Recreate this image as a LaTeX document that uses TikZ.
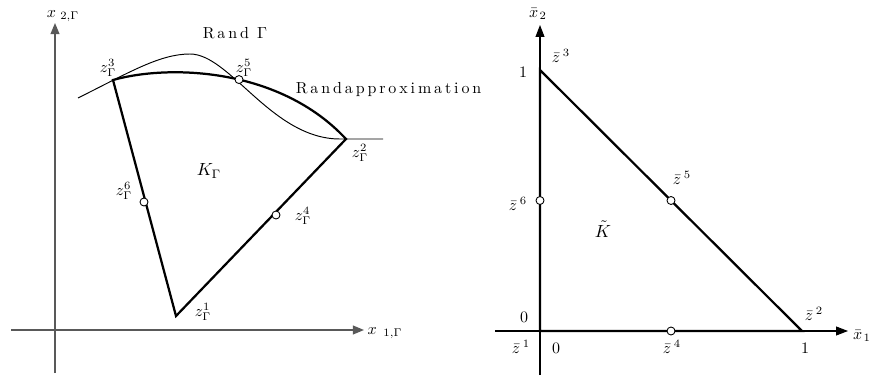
\RequirePackage{fix-cm}
\documentclass[tikz,border=0pt]{standalone}
\usetikzlibrary{arrows.meta,calc}
\makeatletter
\newcommand\lspaced[1]{\lsp@loop#1\relax}
\def\lsp@loop#1{\ifx#1\relax\else#1\kern1.8pt\expandafter\lsp@loop\fi}
\makeatother
\tikzset{
  axL/.style={draw=black!65, line width=0.8pt, -{Triangle[length=7pt,width=5.6pt]}},
  axR/.style={draw=black, line width=0.65pt, -{Triangle[length=7.5pt,width=5.6pt]}},
  edgeline/.style={line width=1.4pt},
  thincurve/.style={line width=0.6pt},
  midpt/.style={circle, draw, line width=0.55pt, fill=white, inner sep=0pt, minimum size=5pt},
  lbl/.style={inner sep=0pt, font=\normalsize},
  bigl/.style={inner sep=0pt, font=\fontsize{11}{13}\selectfont},
  txt/.style={inner sep=0pt, font=\normalsize},
}
\begin{document}
\begin{tikzpicture}[x=0.625pt, y=-0.625pt]
\useasboundingbox (0,0) rectangle (871,376);
% ---------- left panel ----------
\coordinate (xLs) at (11,330);
\coordinate (xLe) at (364,330);
\coordinate (yLs) at (55,373);
\coordinate (yLe) at (55,23);
\draw[axL] (xLs) -- (xLe);
\draw[axL] (yLs) -- (yLe);
\node[lbl] (lx1) at (385,333) {$x_{\mkern9mu 1,\Gamma}$};
\node[lbl] (lx2) at (63,16) {$x_{\mkern6mu 2,\Gamma}$};

\coordinate (z1) at (176,316);
\coordinate (z2) at (346,139);
\coordinate (z3) at (113,80);
\coordinate (rs) at (78,98);
\coordinate (rp) at (190,54);
\coordinate (rq) at (340,139);
\coordinate (re) at (383,139);

% boundary Gamma (thin)
\draw[thincurve] (rs) .. controls (130,72) and (160,54) .. (rp)
  .. controls (230,54) and (272,139) .. (rq) -- (re);
% element with curved edge
\draw[edgeline] (z3) .. controls (170,64) and (280,68) .. (z2) -- (z1) -- cycle;
\path (z3) .. controls (170,64) and (280,68) .. (z2) node[midpt, pos=0.55] (z5) {};
\node[midpt] (z4) at (276,215) {};
\node[midpt] (z6) at (144,202) {};

\node[lbl] (lz3) at (108,68) {$z_\Gamma^3$};
\node[lbl] (lz5) at (244,68) {$z_\Gamma^5$};
\node[lbl] (lz2) at (360,153) {$z_\Gamma^2$};
\node[lbl] (lz6) at (124,191) {$z_\Gamma^6$};
\node[lbl] (lz4) at (303,216) {$z_\Gamma^4$};
\node[lbl] (lz1) at (203,312) {$z_\Gamma^1$};
\node[bigl] (lK) at (209,171) {$K_\Gamma$};
\node[txt] (lrand) at (235,33) {\lspaced{Rand}\ $\Gamma$};
\node[txt] (lapprox) at (390,90) {\lspaced{Randapproximation}};

% ---------- right panel ----------
\coordinate (xRs) at (495,331);
\coordinate (xRe) at (848,331);
\coordinate (yRs) at (540,375);
\coordinate (yRe) at (540,25);
\draw[axR] (xRs) -- (xRe);
\draw[axR] (yRs) -- (yRe);
\node[lbl] (rx1) at (862,336) {$\bar x_{\mkern2mu 1}$};
\node[lbl] (rx2) at (538,14) {$\bar x_{\mkern2mu 2}$};

\coordinate (t1) at (540,331);
\coordinate (t2) at (802,331);
\coordinate (t3) at (540,70);
\draw[edgeline] (t1) -- (t2) -- (t3) -- cycle;
\node[midpt] (t4) at ($(t1)!0.5!(t2)$) {};
\node[midpt] (t5) at ($(t2)!0.5!(t3)$) {};
\node[midpt] (t6) at ($(t1)!0.5!(t3)$) {};

\node[lbl] (ry1) at (523,72) {$1$};
\node[lbl] (ry0) at (524,317) {$0$};
\node[lbl] (rx0) at (556,348) {$0$};
\node[lbl] (rx1n) at (805,348) {$1$};
\node[lbl] (lt3) at (561,56) {$\bar z^{\mkern4mu 3}$};
\node[lbl] (lt2) at (814,314) {$\bar z^{\mkern4mu 2}$};
\node[lbl] (lt1) at (521,347) {$\bar z^{\mkern4mu 1}$};
\node[lbl] (lt4) at (672,347) {$\bar z^{\mkern4mu 4}$};
\node[lbl] (lt5) at (682,178) {$\bar z^{\mkern4mu 5}$};
\node[lbl] (lt6) at (518,204) {$\bar z^{\mkern4mu 6}$};
\node[bigl] (lKt) at (603,229) {$\tilde K$};
\end{tikzpicture}
\end{document}
